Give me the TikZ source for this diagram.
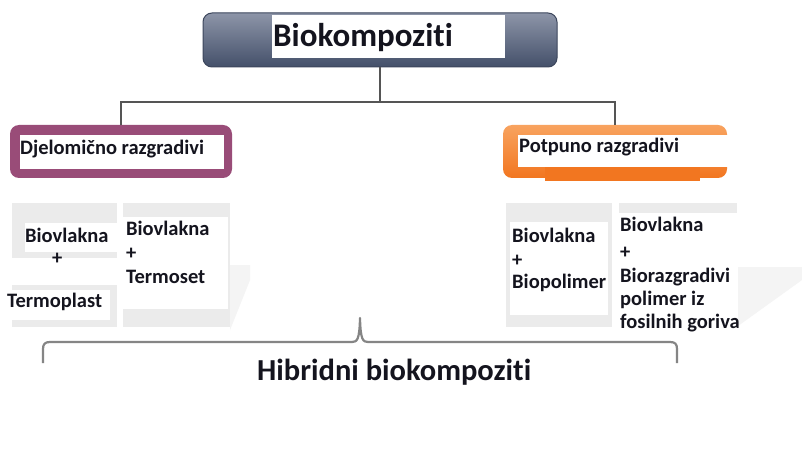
\documentclass[tikz,border=0pt]{standalone}
\usepackage{fontspec}
\setmainfont{Carlito}[Ligatures={NoCommon,NoDiscretionary}]
\definecolor{ink}{HTML}{14141E}
\definecolor{slatetop}{HTML}{8D95A8}
\definecolor{slatemid}{HTML}{56627C}
\definecolor{slatebot}{HTML}{44506A}
\definecolor{slateborder}{HTML}{3C465C}
\definecolor{plum}{HTML}{994C78}
\definecolor{orangetop}{HTML}{F8A35F}
\definecolor{orangebot}{HTML}{F27620}
\definecolor{linegray}{HTML}{555555}
\definecolor{bracegray}{HTML}{858585}
\definecolor{panelgray}{HTML}{EBEBEB}
\definecolor{faintgray}{HTML}{F4F4F4}
\begin{document}
\begin{tikzpicture}[x=1pt,y=-1pt,
  conn/.style={draw=linegray, line width=2pt},
  boxshape/.style={rounded corners=9pt, minimum height=53pt, inner sep=0pt},
  txt/.style={inner sep=0pt, anchor=base west, text=ink,
              font=\fontsize{20.5}{24}\selectfont\bfseries},
  bigtxt/.style={inner sep=0pt, anchor=base west, text=ink,
              font=\fontsize{33}{36}\selectfont\bfseries},
  hybtxt/.style={inner sep=0pt, anchor=base west, text=ink,
              font=\fontsize{30.5}{34}\selectfont\bfseries},
  panel/.style={fill=panelgray},
  blank/.style={fill=white}]
\useasboundingbox (0,0) rectangle (802,462);
\fill[white] (0,0) rectangle (802,462);

% top box
\node[boxshape, draw=slateborder, line width=1pt, top color=slatetop,
      middle color=slatemid, bottom color=slatebot,
      minimum width=354pt, minimum height=54pt] (top) at (380,40) {};
\fill[blank] (272,15) rectangle (505,58);
\node[bigtxt] (toptext) at (273,47) {Biokompoziti};

% second level boxes
\node[boxshape, fill=plum, minimum width=222pt] (left) at (121,151.5) {};
\fill[blank] (20,135) rectangle (224,169);
\node[txt] (lefttext) at (20,155) {Djelomično razgradivi};

\node[boxshape, top color=orangetop, bottom color=orangebot,
      minimum width=224pt] (right) at (615,151.5) {};
\fill[orangebot] (545,167) rectangle (700,181);
\fill[blank] (518,135) rectangle (728,167);
\node[txt] (righttext) at (519,153) {Potpuno razgradivi};

% connectors
\coordinate (bus) at (380,102);
\draw[conn] (top.south) -- (bus);
\draw[conn] (left.north) |- (bus) -| (right.north);

% faint background shapes
\fill[faintgray] (230,265) -- (250,265) -- (250,280) -- (230,330) -- cycle;
\fill[faintgray] (738,267) -- (802,267) -- (802,280) -- (738,326) -- cycle;

% panels, left group
\fill[panel] (12,203) rectangle (117,327);
\fill[blank] (25,223) rectangle (117,252);
\fill[blank] (8,258) rectangle (120,285);
\fill[blank] (5,290) rectangle (110,320);
\node[txt] (p1a) at (25,242) {Biovlakna};
\node[txt] (p1b) at (52,264) {+};
\node[txt] (p1c) at (7,307) {Termoplast};

\fill[panel] (123,203) rectangle (230,327);
\fill[blank] (123,217) rectangle (228,309);
\node[txt] (p2a) at (126,235) {Biovlakna};
\node[txt] (p2b) at (126,259) {+};
\node[txt] (p2c) at (126,283) {Termoset};

% panels, right group
\fill[panel] (506,203) rectangle (612,327);
\fill[blank] (510,222) rectangle (608,315);
\node[txt] (p3a) at (512,242) {Biovlakna};
\node[txt] (p3b) at (512,266) {+};
\node[txt] (p3c) at (512,288) {Biopolimer};

\fill[panel] (619,203) rectangle (737,213);
\node[txt] (p4a) at (620,232) {Biovlakna};
\node[txt] (p4b) at (620,258) {+};
\node[txt] (p4c) at (620,282) {Biorazgradivi};
\node[txt] (p4d) at (620,305) {polimer iz};
\node[txt] (p4e) at (620,328) {fosilnih goriva};

% brace
\draw[bracegray, line width=2.2pt, line join=round]
  (43,363) -- (43,349) .. controls (43,344) and (45,342) .. (50,342)
  -- (352,342) .. controls (357,342) and (359.5,340) .. (360,318)
  .. controls (360.5,340) and (363,342) .. (368,342)
  -- (670,342) .. controls (675,342) and (677,344) .. (677,349)
  -- (677,363);
\node[hybtxt] (hyb) at (257,380) {Hibridni biokompoziti};
\end{tikzpicture}
\end{document}
